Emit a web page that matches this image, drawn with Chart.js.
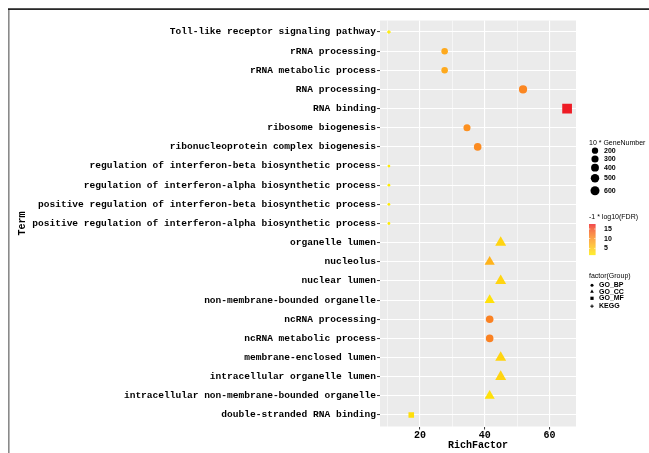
<!DOCTYPE html>
<html>
<head>
<meta charset="utf-8">
<script src="https://cdn.jsdelivr.net/npm/chart.js"></script>
<style>
  html, body { margin: 0; padding: 0; background: #fff; }
  canvas { display: block; }
</style>
</head>
<body>
<canvas id="c" width="649" height="453"></canvas>
<script>
// Enrichment terms, listed top to bottom as shown on the y axis
const terms = [
  'Toll-like receptor signaling pathway',
  'rRNA processing',
  'rRNA metabolic process',
  'RNA processing',
  'RNA binding',
  'ribosome biogenesis',
  'ribonucleoprotein complex biogenesis',
  'regulation of interferon-beta biosynthetic process',
  'regulation of interferon-alpha biosynthetic process',
  'positive regulation of interferon-beta biosynthetic process',
  'positive regulation of interferon-alpha biosynthetic process',
  'organelle lumen',
  'nucleolus',
  'nuclear lumen',
  'non-membrane-bounded organelle',
  'ncRNA processing',
  'ncRNA metabolic process',
  'membrane-enclosed lumen',
  'intracellular organelle lumen',
  'intracellular non-membrane-bounded organelle',
  'double-stranded RNA binding'
];
const richFactor   = [10.4, 27.6, 27.6, 51.8, 65.4, 34.5, 37.8, 10.4, 10.4, 10.4, 10.4,
                      44.9, 41.5, 44.9, 41.5, 41.5, 41.5, 44.9, 44.9, 41.5, 17.3];
const geneNumber10 = [12, 222, 222, 453, 600, 293, 363, 10, 10, 10, 10,
                      600, 480, 600, 480, 363, 363, 600, 600, 480, 95];
const fdrScore     = [1.5, 7.9, 7.9, 11.0, 17.6, 10.2, 10.6, 1.5, 1.5, 1.5, 1.5,
                      3.8, 7.0, 3.8, 2.6, 11.5, 11.5, 3.8, 3.8, 2.6, 2.8];
const groups       = ['KEGG', 'GO_BP', 'GO_BP', 'GO_BP', 'GO_MF', 'GO_BP', 'GO_BP', 'GO_BP', 'GO_BP', 'GO_BP', 'GO_BP',
                      'GO_CC', 'GO_CC', 'GO_CC', 'GO_CC', 'GO_BP', 'GO_BP', 'GO_CC', 'GO_CC', 'GO_CC', 'GO_MF'];

const xMajorTicks = [20, 40, 60];
const sizeBreaks  = [200, 300, 400, 500, 600];
const colorBreaks = [5, 10, 15];
const groupLevels = ['GO_BP', 'GO_CC', 'GO_MF', 'KEGG'];

const groupShape = { GO_BP: 'circle', GO_CC: 'triangle', GO_MF: 'rect', KEGG: 'cross' };

// ---- colour scale: yellow -> red, interpolated in CIE Lab ----
const LOW = [255, 236, 0], HIGH = [238, 28, 37];
function toLin(c) { c /= 255; return c <= 0.04045 ? c / 12.92 : Math.pow((c + 0.055) / 1.055, 2.4); }
function toSrgb(c) { const v = c <= 0.0031308 ? 12.92 * c : 1.055 * Math.pow(c, 1 / 2.4) - 0.055; return Math.round(Math.max(0, Math.min(1, v)) * 255); }
function rgbToLab(rgb) {
  const r = toLin(rgb[0]), g = toLin(rgb[1]), b = toLin(rgb[2]);
  let X = (0.4124 * r + 0.3576 * g + 0.1805 * b) / 0.95047;
  let Y = (0.2126 * r + 0.7152 * g + 0.0722 * b);
  let Z = (0.0193 * r + 0.1192 * g + 0.9505 * b) / 1.08883;
  const f = t => t > 0.008856 ? Math.cbrt(t) : 7.787 * t + 16 / 116;
  const fx = f(X), fy = f(Y), fz = f(Z);
  return [116 * fy - 16, 500 * (fx - fy), 200 * (fy - fz)];
}
function labToRgb(lab) {
  const fy = (lab[0] + 16) / 116, fx = fy + lab[1] / 500, fz = fy - lab[2] / 200;
  const fi = t => t > 0.206893 ? t * t * t : (t - 16 / 116) / 7.787;
  const X = fi(fx) * 0.95047, Y = fi(fy), Z = fi(fz) * 1.08883;
  const r = 3.2406 * X - 1.5372 * Y - 0.4986 * Z;
  const g = -0.9689 * X + 1.8758 * Y + 0.0415 * Z;
  const b = 0.0557 * X - 0.2040 * Y + 1.0570 * Z;
  return [toSrgb(r), toSrgb(g), toSrgb(b)];
}
const LOW_LAB = rgbToLab(LOW), HIGH_LAB = rgbToLab(HIGH);
const fdrMin = Math.min(...fdrScore), fdrMax = Math.max(...fdrScore);
function colorFor(v) {
  const t = Math.max(0, Math.min(1, (v - fdrMin) / (fdrMax - fdrMin)));
  const lab = LOW_LAB.map((l, i) => l + (HIGH_LAB[i] - l) * t);
  const c = labToRgb(lab);
  return `rgb(${c[0]},${c[1]},${c[2]})`;
}

// ---- size scale: area-proportional diameter in px ----
const sizeMin = Math.min(...geneNumber10), sizeMax = Math.max(...geneNumber10);
const D_MIN = 2.8, D_MAX = 9;
function diameterFor(v) {
  const t = Math.max(0, (v - sizeMin) / (sizeMax - sizeMin));
  return D_MIN + (D_MAX - D_MIN) * Math.sqrt(t);
}
// Chart.js radius for each marker shape so that shapes read at a similar visual size
function radiusFor(shape, d) {
  if (shape === 'triangle') return (1.22 * d) / Math.sqrt(3);
  if (shape === 'rect') return (1.08 * d) / Math.SQRT2;
  if (shape === 'cross') return Math.max(1.4, d / 2 + 0.2);
  return d / 2;
}

const n = terms.length;
const points = terms.map((t, i) => ({ x: richFactor[i], y: n - 1 - i, i }));

const MONO = "'Liberation Mono', 'DejaVu Sans Mono', monospace";
const SANS = "'Liberation Sans', Arial, sans-serif";

const panelPlugin = {
  id: 'panel',
  beforeDraw(chart) {
    const { ctx, chartArea: a } = chart;
    ctx.save();
    ctx.fillStyle = '#ffffff';
    ctx.fillRect(0, 0, chart.width, chart.height);
    ctx.fillStyle = '#EBEBEB';
    ctx.fillRect(a.left, a.top, a.right - a.left, a.bottom - a.top);
    // outer frame lines
    ctx.fillStyle = '#8a8a8a';
    ctx.fillRect(8, 9, 1.6, chart.height - 9);
    ctx.fillStyle = '#111111';
    ctx.fillRect(8, 8.3, chart.width - 8, 1.6);
    ctx.restore();
  }
};

function drawShape(ctx, shape, x, y, r) {
  Chart.helpers.drawPoint(ctx, { pointStyle: shape, radius: r, rotation: 0, borderWidth: shape === 'cross' ? 1 : 0 }, x, y);
}

const legendPlugin = {
  id: 'sideLegends',
  afterDraw(chart) {
    const { ctx } = chart;
    ctx.save();
    ctx.textBaseline = 'middle';
    ctx.textAlign = 'left';
    ctx.fillStyle = '#000';
    ctx.font = `7px ${SANS}`;

    // size legend
    ctx.fillText('10 * GeneNumber', 589, 143);
    const sizeY = [150.7, 159, 167.7, 178.3, 190.7];
    sizeBreaks.forEach((b, k) => {
      ctx.fillStyle = '#000';
      ctx.beginPath();
      ctx.arc(595, sizeY[k], diameterFor(b) / 2, 0, Math.PI * 2);
      ctx.fill();
      ctx.font = `bold 7px ${SANS}`;
      ctx.fillText(String(b), 604, sizeY[k]);
    });

    // colour bar
    ctx.font = `7px ${SANS}`;
    ctx.fillText('-1 * log10(FDR)', 589, 217);
    const barTop = 224, barBot = 255, barL = 589, barW = 6.5;
    for (let yy = barTop; yy < barBot; yy += 0.5) {
      const v = fdrMax - (yy - barTop) / (barBot - barTop) * (fdrMax - fdrMin);
      ctx.fillStyle = colorFor(v);
      ctx.fillRect(barL, yy, barW, 0.6);
    }
    ctx.fillStyle = '#000';
    ctx.font = `bold 7px ${SANS}`;
    colorBreaks.forEach(b => {
      const yy = barBot - (b - fdrMin) / (fdrMax - fdrMin) * (barBot - barTop);
      ctx.fillStyle = '#ffffff';
      ctx.fillRect(barL, yy - 0.3, 1.3, 0.6);
      ctx.fillRect(barL + barW - 1.3, yy - 0.3, 1.3, 0.6);
      ctx.fillStyle = '#000';
      ctx.fillText(String(b), 604, yy);
    });

    // group legend
    ctx.font = `7px ${SANS}`;
    ctx.fillText('factor(Group)', 589, 276);
    const gY = [285.3, 291.7, 298.3, 306.2];
    ctx.fillStyle = '#000';
    ctx.strokeStyle = '#000';
    groupLevels.forEach((g, k) => {
      const sh = groupShape[g];
      drawShape(ctx, sh, 592, gY[k], radiusFor(sh, 3));
      ctx.font = `bold 7px ${SANS}`;
      ctx.fillText(g, 599, gY[k]);
    });
    ctx.restore();
  }
};

new Chart(document.getElementById('c'), {
  type: 'scatter',
  data: {
    datasets: [{
      data: points,
      pointStyle: ctx => groupShape[groups[ctx.dataIndex]],
      pointRadius: ctx => radiusFor(groupShape[groups[ctx.dataIndex]], diameterFor(geneNumber10[ctx.dataIndex])),
      pointHoverRadius: ctx => radiusFor(groupShape[groups[ctx.dataIndex]], diameterFor(geneNumber10[ctx.dataIndex])),
      backgroundColor: ctx => colorFor(fdrScore[ctx.dataIndex]),
      borderColor: ctx => colorFor(fdrScore[ctx.dataIndex]),
      borderWidth: ctx => groups[ctx.dataIndex] === 'KEGG' ? 1.3 : 0,
      hoverBorderWidth: ctx => groups[ctx.dataIndex] === 'KEGG' ? 1.3 : 0
    }]
  },
  options: {
    responsive: false,
    animation: false,
    devicePixelRatio: 1,
    events: [],
    layout: { padding: { left: 10, right: 73, top: 20.5, bottom: 0 } },
    plugins: { legend: { display: false }, tooltip: { enabled: false } },
    scales: {
      x: {
        type: 'linear',
        min: 7.65,
        max: 68.15,
        afterBuildTicks(scale) {
          const t = [];
          for (let v = 10; v <= 60; v += 10) t.push({ value: v });
          scale.ticks = t;
        },
        afterFit(scale) { scale.height = 26.5; },
        border: { display: false },
        grid: {
          color: '#ffffff',
          lineWidth: c => (xMajorTicks.includes(c.tick && c.tick.value) ? 1.1 : 0.55),
          drawTicks: true,
          tickLength: 3,
          tickWidth: 1,
          tickColor: c => (xMajorTicks.includes(c.tick && c.tick.value) ? '#333333' : 'rgba(0,0,0,0)')
        },
        ticks: {
          autoSkip: false,
          maxRotation: 0,
          padding: 0,
          color: '#000',
          font: { family: MONO, size: 10, weight: 'bold' },
          callback: v => (xMajorTicks.includes(v) ? String(v) : '')
        },
        title: {
          display: true,
          text: 'RichFactor',
          color: '#000',
          font: { family: MONO, size: 10, weight: 'bold' },
          padding: { top: 0, bottom: 2 }
        }
      },
      y: {
        type: 'linear',
        min: -0.6,
        max: n - 0.4,
        afterBuildTicks(scale) {
          const t = [];
          for (let v = 0; v < n; v++) t.push({ value: v });
          scale.ticks = t;
        },
        afterFit(scale) { scale.width = 370; },
        border: { display: false },
        grid: {
          color: '#ffffff',
          lineWidth: 1.1,
          drawTicks: true,
          tickLength: 3,
          tickWidth: 1,
          tickColor: '#333333'
        },
        ticks: {
          autoSkip: false,
          padding: 1,
          color: '#000',
          font: { family: MONO, size: 9.55, weight: 'bold' },
          callback: v => terms[n - 1 - v]
        },
        title: {
          display: true,
          text: 'Term',
          color: '#000',
          font: { family: MONO, size: 10, weight: 'bold' },
          padding: { top: 6, bottom: 0 }
        }
      }
    }
  },
  plugins: [panelPlugin, legendPlugin]
});
</script>
</body>
</html>
